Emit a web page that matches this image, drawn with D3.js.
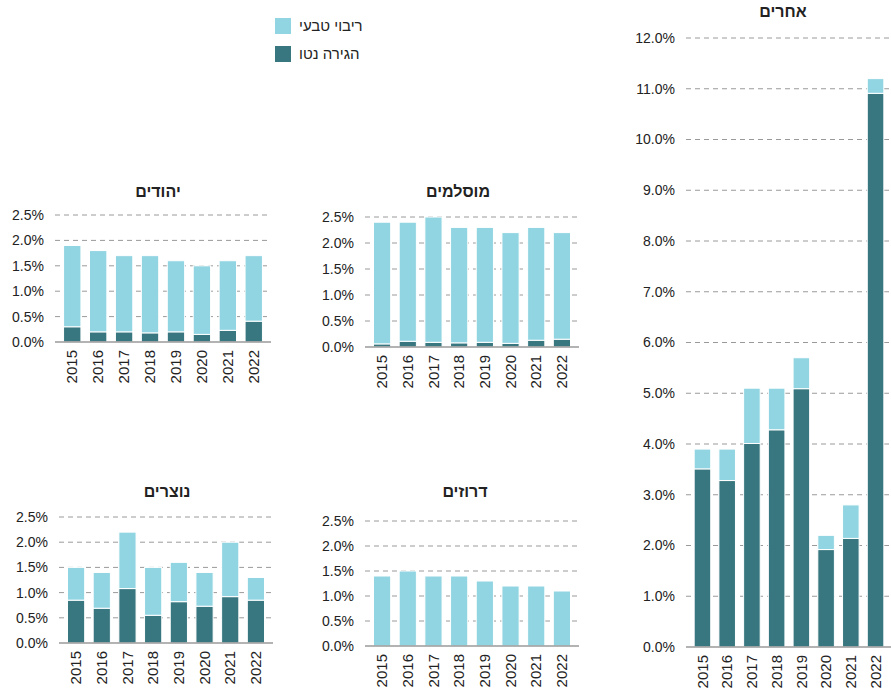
<!DOCTYPE html>
<html>
<head>
<meta charset="utf-8">
<script src="https://cdn.jsdelivr.net/npm/d3@7"></script>
<style>
  body { margin: 0; background: #fff; }
  svg text { font-family: "Liberation Sans", Arial, sans-serif; fill: #222; }
</style>
</head>
<body>
<svg id="chart" width="891" height="693"></svg>
<script>
// years on the x axis
const years = ["2015", "2016", "2017", "2018", "2019", "2020", "2021", "2022"];

// natural growth / net migration, % per year
const jewsNatural = [1.60, 1.60, 1.50, 1.52, 1.40, 1.35, 1.37, 1.29];
const jewsMigration = [0.30, 0.20, 0.20, 0.18, 0.20, 0.15, 0.23, 0.41];
const muslimsNatural = [2.34, 2.29, 2.41, 2.22, 2.21, 2.13, 2.17, 2.05];
const muslimsMigration = [0.06, 0.11, 0.09, 0.08, 0.09, 0.07, 0.13, 0.15];
const christiansNatural = [0.65, 0.71, 1.12, 0.95, 0.78, 0.67, 1.08, 0.45];
const christiansMigration = [0.85, 0.69, 1.08, 0.55, 0.82, 0.73, 0.92, 0.85];
const druzeNatural = [1.40, 1.50, 1.40, 1.40, 1.30, 1.20, 1.20, 1.10];
const druzeMigration = [0, 0, 0, 0, 0, 0, 0, 0];
const othersNatural = [0.39, 0.62, 1.09, 0.82, 0.61, 0.28, 0.66, 0.29];
const othersMigration = [3.51, 3.28, 4.01, 4.28, 5.09, 1.92, 2.14, 10.91];

const smallTicks = [0, 0.5, 1, 1.5, 2, 2.5];
const bigTicks = [0, 1, 2, 3, 4, 5, 6, 7, 8, 9, 10, 11, 12];

const seriesNames = ["ריבוי טבעי", "הגירה נטו"];
const colNatural = "#92d5e2";
const colMigration = "#38777f";

const svg = d3.select("#chart");

function drawPanel(title, natural, migration, xr, yr, ticks, titleX, titleY) {
    const g = svg.append("g");
    const x = d3.scaleBand().domain(years).range(xr).padding(0.33);
    const y = d3.scaleLinear().domain([0, d3.max(ticks)]).range(yr);

    // gridlines
    g.selectAll(".grid")
        .data(ticks.slice(1))
        .join("line")
        .attr("x1", xr[0]).attr("x2", xr[1])
        .attr("y1", d => y(d)).attr("y2", d => y(d))
        .attr("stroke", "#9a9a9a")
        .attr("stroke-width", 1)
        .attr("stroke-dasharray", "5,4");

    // y labels
    g.selectAll(".ylab")
        .data(ticks)
        .join("text")
        .attr("x", xr[0] - 11)
        .attr("y", d => y(d))
        .attr("dy", "0.35em")
        .attr("text-anchor", "end")
        .attr("font-size", 14)
        .text(d => d.toFixed(1) + "%");

    // stacked bars: migration at bottom, natural on top
    const rows = years.map((yr_, i) => ({ year: yr_, mig: migration[i], nat: natural[i] }));
    const stack = d3.stack().keys(["mig", "nat"])(rows);
    g.selectAll(".layer")
        .data(stack)
        .join("g")
        .attr("fill", d => d.key === "mig" ? colMigration : colNatural)
        .selectAll("rect")
        .data(d => d)
        .join("rect")
        .attr("x", d => x(d.data.year))
        .attr("width", x.bandwidth())
        .attr("y", d => y(d[1]))
        .attr("height", d => Math.max(0, y(d[0]) - y(d[1])))
        .attr("stroke", "#fff")
        .attr("stroke-width", 1);

    // baseline
    g.append("line")
        .attr("x1", xr[0]).attr("x2", xr[1])
        .attr("y1", y(0)).attr("y2", y(0))
        .attr("stroke", "#9a9a9a")
        .attr("stroke-width", 1.5);

    // x labels, rotated
    g.selectAll(".xlab")
        .data(years)
        .join("text")
        .attr("transform", d => "translate(" + (x(d) + x.bandwidth() / 2) + "," + (y(0) + 8) + ") rotate(-90)")
        .attr("dy", "0.35em")
        .attr("text-anchor", "end")
        .attr("font-size", 15)
        .text(d => d);

    g.append("text")
        .attr("x", titleX)
        .attr("y", titleY)
        .attr("text-anchor", "middle")
        .attr("font-size", 16)
        .attr("font-weight", "bold")
        .text(title);
}

drawPanel("יהודים", jewsNatural, jewsMigration, [55, 271], [342, 215], smallTicks, 158, 197);
drawPanel("מוסלמים", muslimsNatural, muslimsMigration, [365, 579], [347, 217], smallTicks, 458, 197);
drawPanel("נוצרים", christiansNatural, christiansMigration, [59, 273], [643, 517], smallTicks, 167, 497);
drawPanel("דרוזים", druzeNatural, druzeMigration, [365, 579], [646, 521], smallTicks, 465, 497);
drawPanel("אחרים", othersNatural, othersMigration, [686, 892], [647, 38], bigTicks, 783, 17);

// legend
const legend = svg.append("g");
[colNatural, colMigration].forEach((c, i) => {
    legend.append("rect")
        .attr("x", 275).attr("y", 18 + i * 28)
        .attr("width", 16).attr("height", 16)
        .attr("fill", c);
    legend.append("text")
        .attr("x", 299).attr("y", 26 + i * 28)
        .attr("dy", "0.35em")
        .attr("font-size", 15)
        .text(seriesNames[i]);
});
</script>
</body>
</html>
